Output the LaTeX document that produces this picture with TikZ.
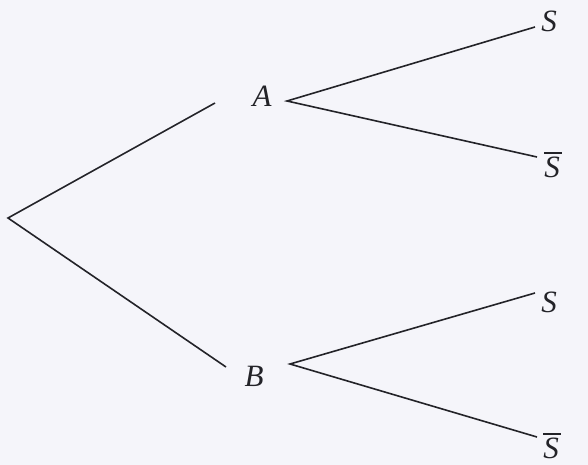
\documentclass[tikz,border=0pt]{standalone}
\usepackage{fontspec}
\newfontfamily\labfont{Liberation Serif}
\definecolor{bgc}{RGB}{245,245,250}
\definecolor{ink}{RGB}{35,35,40}
\begin{document}
\begin{tikzpicture}[x=1pt,y=-1pt,
  br/.style={draw=ink,line width=1.6pt},
  lab/.style={text=ink,inner sep=0pt,font=\labfont\fontsize{31}{33}\selectfont\itshape}]
\fill[bgc] (0,0) rectangle (588,465);
\useasboundingbox (0,0) rectangle (588,465);
\coordinate (r) at (8,218);
\coordinate (a1) at (215,103);
\coordinate (b1) at (226,367);
\coordinate (a2) at (287,101);
\coordinate (b2) at (290,364);
\coordinate (aS) at (535,27);
\coordinate (aN) at (537,157);
\coordinate (bS) at (535,293);
\coordinate (bN) at (537,437);
\node[lab] (A) at (262,96) {A};
\node[lab] (B) at (254,376) {B};
\node[lab] (s1) at (549,21) {S};
\node[lab] (s2) at (553,165) {\vbox{\hrule height 1.4pt width 0.55em\kern 3pt\hbox{S}}};
\node[lab] (s3) at (549,302) {S};
\node[lab] (s4) at (552,446) {\vbox{\hrule height 1.4pt width 0.55em\kern 3pt\hbox{S}}};
\draw[br] (a1) -- (r) -- (b1);
\draw[br] (aS) -- (a2) -- (aN);
\draw[br] (bS) -- (b2) -- (bN);
\end{tikzpicture}
\end{document}
